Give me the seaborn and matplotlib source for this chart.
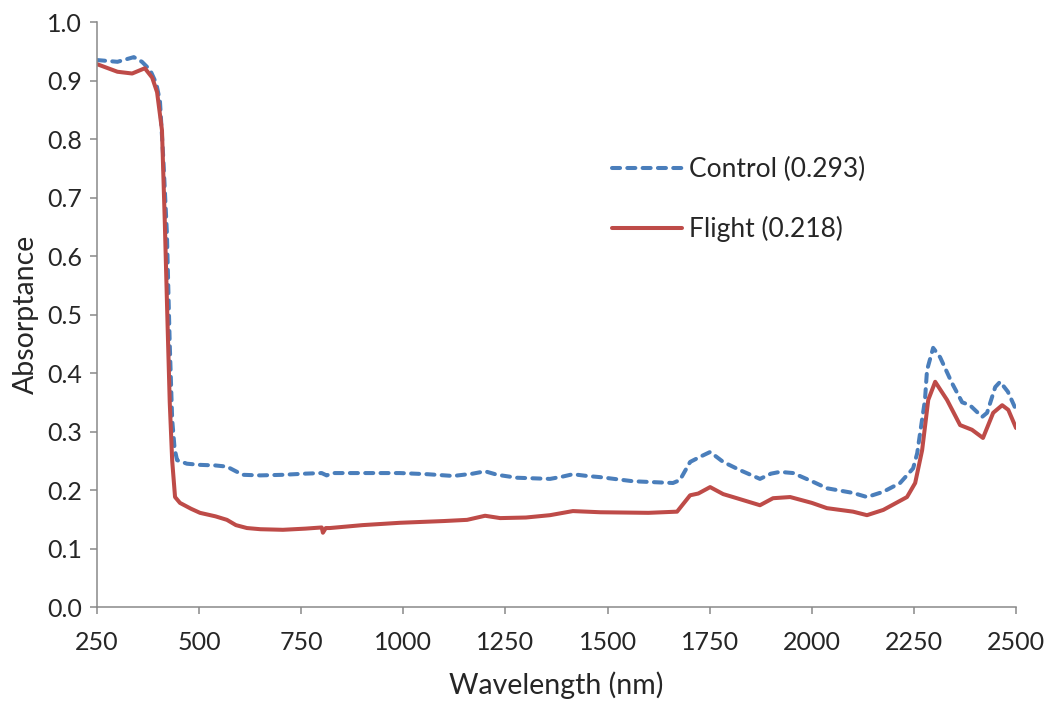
import numpy as np
import pandas as pd

import matplotlib
matplotlib.use("Agg")
import matplotlib.pyplot as plt
import seaborn as sns


# =========================
# DATA
# =========================

control_nm = [
    250, 300, 340, 360, 380, 395, 404, 412, 421, 428, 434, 440, 446,
    470, 502, 540, 568, 590, 607, 650, 705, 760, 800, 812, 828, 900,
    992, 1060, 1122, 1170, 1200, 1230, 1278, 1359, 1390, 1415, 1450,
    1482, 1562, 1660, 1677, 1702, 1730, 1751, 1783, 1824, 1873, 1900,
    1922, 1954, 2000, 2037, 2101, 2135, 2175, 2216, 2248, 2258, 2265,
    2277, 2282, 2297, 2314, 2343, 2368, 2387, 2417, 2429, 2449, 2461,
    2480, 2500
]

control_abs = [
    0.935, 0.932, 0.940, 0.932, 0.918, 0.895, 0.865, 0.770, 0.640, 0.450,
    0.320, 0.270, 0.251, 0.245, 0.243, 0.242, 0.240, 0.232, 0.226, 0.225,
    0.226, 0.228, 0.229, 0.225, 0.229, 0.229, 0.229, 0.227, 0.224, 0.228,
    0.232, 0.226, 0.221, 0.219, 0.223, 0.227, 0.224, 0.222, 0.215, 0.212,
    0.217, 0.248, 0.258, 0.265, 0.248, 0.234, 0.219, 0.228, 0.231, 0.229,
    0.215, 0.203, 0.195, 0.188, 0.197, 0.212, 0.237, 0.263, 0.297, 0.354,
    0.405, 0.443, 0.427, 0.383, 0.350, 0.345, 0.325, 0.332, 0.376, 0.385,
    0.368, 0.337
]

flight_nm = [
    250, 300, 336, 367, 385, 397, 409, 416, 422, 428, 434, 441, 453,
    480, 502, 540, 568, 590, 617, 650, 705, 760, 800, 803, 810, 820,
    900, 992, 1100, 1156, 1200, 1237, 1300, 1359, 1415, 1482, 1600,
    1670, 1702, 1722, 1751, 1783, 1807, 1873, 1905, 1947, 2000, 2037,
    2101, 2135, 2175, 2233, 2253, 2270, 2285, 2302, 2331, 2363, 2392,
    2419, 2444, 2466, 2481, 2500
]

flight_abs = [
    0.928, 0.915, 0.912, 0.921, 0.905, 0.880, 0.815, 0.656, 0.500, 0.350,
    0.250, 0.188, 0.178, 0.168, 0.161, 0.155, 0.149, 0.140, 0.135, 0.133,
    0.132, 0.134, 0.136, 0.127, 0.135, 0.135, 0.140, 0.144, 0.147, 0.149,
    0.156, 0.152, 0.153, 0.157, 0.164, 0.162, 0.161, 0.163, 0.191, 0.194,
    0.205, 0.193, 0.188, 0.174, 0.186, 0.188, 0.178, 0.169, 0.163, 0.157,
    0.166, 0.188, 0.212, 0.268, 0.354, 0.385, 0.354, 0.311, 0.303, 0.289,
    0.332, 0.345, 0.337, 0.306
]

x_ticks = [250, 500, 750, 1000, 1250, 1500, 1750, 2000, 2250, 2500]
y_ticks = [0.0, 0.1, 0.2, 0.3, 0.4, 0.5, 0.6, 0.7, 0.8, 0.9, 1.0]

control_df = pd.DataFrame({"nm": control_nm, "abs": control_abs})
flight_df = pd.DataFrame({"nm": flight_nm, "abs": flight_abs})


# =========================
# STYLE
# =========================

sns.set_style("white")
plt.rcParams["font.family"] = ["Lato", "DejaVu Sans"]

axis_grey = "#898989"


# =========================
# PLOT
# =========================

fig = plt.figure(figsize=(10.49, 7.06), dpi=100)
ax = fig.add_axes([0.0925, 0.1402, 0.8761, 0.8286])

sns.lineplot(
    data=control_df,
    x="nm",
    y="abs",
    ax=ax,
    color="#4A7EBB",
    linewidth=2.9,
    label="Control (0.293)"
)
ax.lines[-1].set_dashes((2.0, 1.8))
ax.lines[-1].set_dash_capstyle("round")

sns.lineplot(
    data=flight_df,
    x="nm",
    y="abs",
    ax=ax,
    color="#BE4B48",
    linewidth=2.9,
    label="Flight (0.218)"
)

ax.set_xlim(250, 2500)
ax.set_ylim(0, 1.0)
ax.set_xticks(x_ticks)
ax.set_yticks(y_ticks)
ax.set_yticklabels([f"{v:.1f}" for v in y_ticks])

ax.tick_params(
    axis="both",
    direction="out",
    length=5,
    width=1.1,
    color=axis_grey,
    labelsize=18,
    pad=6,
    bottom=True,
    left=True
)
ax.tick_params(axis="x", pad=12)

for side in ["top", "right"]:
    ax.spines[side].set_visible(False)
for side in ["left", "bottom"]:
    ax.spines[side].set_color(axis_grey)
    ax.spines[side].set_linewidth(1.1)

ax.set_xlabel("Wavelength (nm)", fontsize=20.5, labelpad=13)
ax.set_ylabel("Absorptance", fontsize=20.5, labelpad=6)

ax.legend(
    loc="center left",
    bbox_to_anchor=(0.535, 0.696),
    frameon=False,
    fontsize=19,
    handlelength=2.65,
    handletextpad=0.25,
    labelspacing=1.28
)

fig.savefig("out.png", dpi=100)
plt.close(fig)
